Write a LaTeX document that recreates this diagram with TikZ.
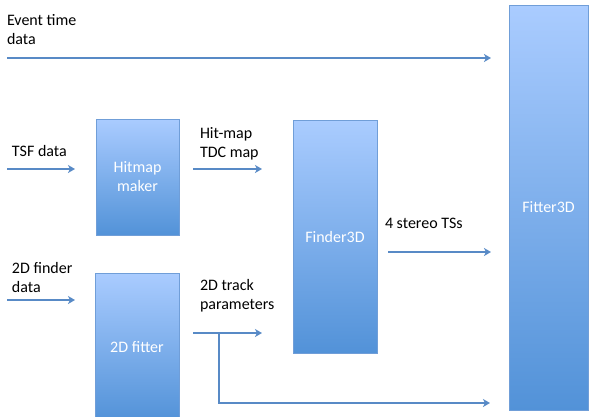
\documentclass[tikz,border=0pt]{standalone}
\usepackage{fontspec}
\setmainfont{Carlito}
\usepackage{xcolor}
\definecolor{linecol}{RGB}{88,138,198}
\definecolor{boxtop}{RGB}{170,204,255}
\definecolor{boxbot}{RGB}{82,146,216}
\definecolor{boxline}{RGB}{112,158,216}
\usetikzlibrary{positioning}
\usetikzlibrary{arrows.meta,shadows}

\begin{document}
\begin{tikzpicture}[x=1pt,y=-1pt,every node/.style={inner sep=0,outer sep=0,font=\fontsize{16}{19}\selectfont},
	blk/.style={draw=boxline,line width=0.8pt,top color=boxtop,bottom color=boxbot,text=white,align=center,anchor=north west,
		drop shadow={opacity=0.25,shadow xshift=0.6pt,shadow yshift=-1.2pt}},
	lbl/.style={align=left,anchor=base west},
	flow/.style={draw=linecol,line width=1.6pt,-{Stealth[length=7pt,width=8pt,inset=2pt]}}]
	\useasboundingbox (0,0) rectangle (591,416);
	% boxes
	\node (hm) [blk,minimum width=83pt,minimum height=116pt] at (96,119) {Hitmap\\maker};
	\node (f2) [blk,minimum width=84pt,minimum height=148pt] at (95,273) {2D fitter};
	\node (fd) [blk,minimum width=84pt,minimum height=233pt] at (293,120) {Finder3D};
	\node (ft) [blk,minimum width=79pt,minimum height=405pt] at (509,5) {Fitter3D};
	% labels (base = last line)
	\node (l0) [lbl] at (7,44) {Event time\\data};
	\node (l1) [lbl] at (12,156) {TSF data};
	\node (l2) [lbl] at (200,157) {Hit-map\\TDC map};
	\node (l3) [lbl] at (385,228) {4 stereo TSs};
	\node (l4) [lbl] at (12,292) {2D finder\\data};
	\node (l5) [lbl] at (200,309) {2D track\\parameters};
	% arrow ends
	\coordinate (a0) at (7,58);    \coordinate (b0) at (491,58);
	\coordinate (a1) at (7,169);   \coordinate (b1) at (75,169);
	\coordinate (a2) at (193,169); \coordinate (b2) at (262,169);
	\coordinate (a3) at (388,252); \coordinate (b3) at (491,252);
	\coordinate (a4) at (7,300);   \coordinate (b4) at (75,300);
	\coordinate (a5) at (193,333); \coordinate (b5) at (262,333);
	\coordinate (c5) at (219,333); \coordinate (d5) at (490,403);
	\path
		(a0) edge[flow] (b0)
		(a1) edge[flow] (b1)
		(a2) edge[flow] (b2)
		(a3) edge[flow] (b3)
		(a4) edge[flow] (b4)
		(a5) edge[flow] (b5);
	\draw[flow] (c5) |- (d5);
\end{tikzpicture}
\end{document}
